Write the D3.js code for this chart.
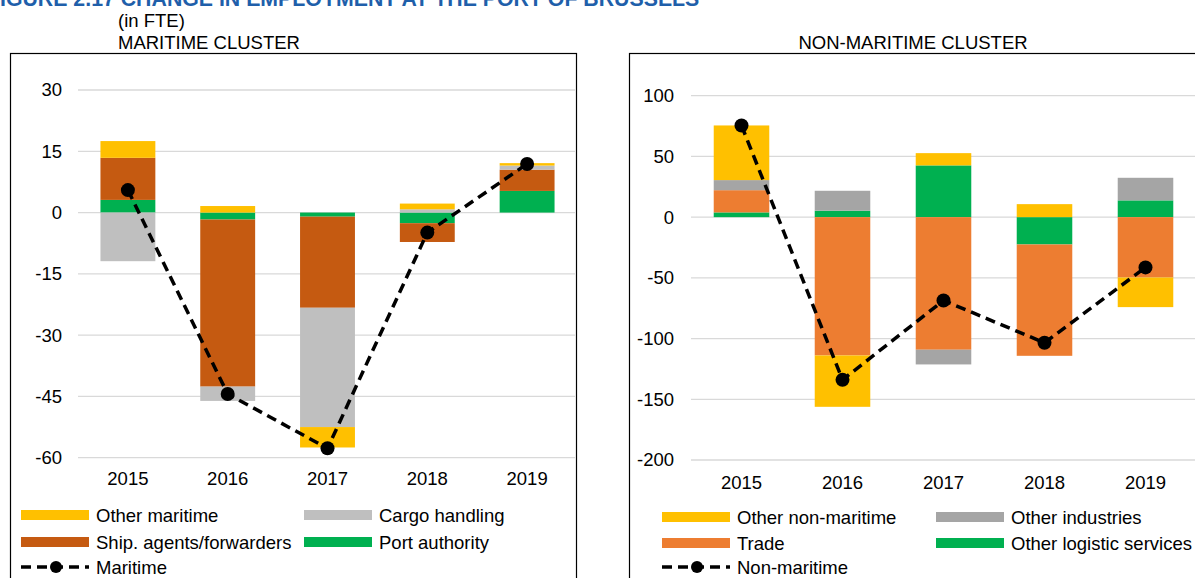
<!DOCTYPE html>
<html>
<head>
<meta charset="utf-8">
<script src="https://cdn.jsdelivr.net/npm/d3@7"></script>
<style>
  html, body { margin: 0; padding: 0; background: #fff; }
  svg { display: block; font-family: "Liberation Sans", Arial, sans-serif; }
</style>
</head>
<body>
<svg id="chart" width="1195" height="578"></svg>
<script>
// ---------- DATA ----------
const years = ["2015", "2016", "2017", "2018", "2019"];

// Maritime cluster (FTE change)
const portAuthority   = [3.1, -1.7, -1.0, -2.6, 5.3];
const shipAgents      = [10.3, -40.9, -22.3, -4.6, 5.2];
const cargoHandling   = [-11.9, -3.5, -29.2, 0.8, 1.0];
const otherMaritime   = [4.1, 1.6, -5.0, 1.4, 0.6];
const maritimeTotal   = [5.5, -44.4, -57.7, -4.9, 11.9];
const maritimeTicks   = [30, 15, 0, -15, -30, -45, -60];

// Non-maritime cluster (FTE change)
const otherLogistic     = [3.9, 5.3, 42.6, -22.5, 13.8];
const trade             = [18.3, -113.9, -109.2, -91.7, -49.7];
const otherIndustries   = [8.3, 16.4, -12.1, 0, 18.6];
const otherNonMaritime  = [45.0, -42.3, 10.1, 10.7, -24.4];
const nonMaritimeTotal  = [75.5, -134.0, -68.6, -103.5, -41.4];
const nonMaritimeTicks  = [100, 50, 0, -50, -100, -150, -200];

const titleText = "FIGURE 2.17 CHANGE IN EMPLOYMENT AT THE PORT OF BRUSSELS";

// ---------- DRAW ----------
const svg = d3.select("#chart");
const FONT = 18.5;

svg.append("text").attr("x", -13).attr("y", 5.5)
  .attr("font-size", 21.3).attr("font-weight", "bold").attr("fill", "#1F5FAA")
  .text(titleText);
svg.append("text").attr("x", 118).attr("y", 26.5).attr("font-size", FONT).attr("fill", "#000").text("(in FTE)");

function drawPanel(cfg) {
  const g = svg.append("g");
  // frame
  g.append("rect").attr("x", cfg.box[0] + 0.5).attr("y", 53.5)
    .attr("width", cfg.box[1] - cfg.box[0]).attr("height", 700)
    .attr("fill", "none").attr("stroke", "#000").attr("stroke-width", 1.2);
  // panel title
  g.append("text").attr("x", cfg.titleX).attr("y", 48.5).attr("font-size", FONT)
    .attr("text-anchor", cfg.titleAnchor).text(cfg.title);

  const x = d3.scaleBand().domain(years).range(cfg.xRange).paddingInner(0.45).paddingOuter(0.225);
  const y = d3.scaleLinear().domain(cfg.yDomain).range(cfg.yRange);

  // gridlines
  g.append("g").selectAll("line").data(cfg.ticks).join("line")
    .attr("x1", cfg.xRange[0]).attr("x2", cfg.gridEnd)
    .attr("y1", d => y(d)).attr("y2", d => y(d))
    .attr("stroke", "#D9D9D9").attr("stroke-width", 1.3);

  // y axis labels
  const yAxis = d3.axisLeft(y).tickValues(cfg.ticks).tickSize(0).tickPadding(0)
    .tickFormat(d => String(d));
  const ya = g.append("g").attr("transform", `translate(${cfg.yLabelX},0)`).call(yAxis);
  ya.select(".domain").remove();
  ya.selectAll("text").attr("font-size", FONT).attr("fill", "#000")
    .attr("font-family", "'Liberation Sans', Arial, sans-serif");

  // x axis labels
  const xAxis = d3.axisBottom(x).tickSize(0).tickPadding(0);
  const xa = g.append("g").attr("transform", `translate(0,${cfg.xLabelY})`).call(xAxis);
  xa.select(".domain").remove();
  xa.selectAll("text").attr("font-size", FONT).attr("fill", "#000").attr("dy", 0)
    .attr("font-family", "'Liberation Sans', Arial, sans-serif");

  // stacked bars
  const rows = years.map((yr, i) => {
    const o = { year: yr };
    cfg.series.forEach(s => o[s.name] = s.values[i]);
    return o;
  });
  const stack = d3.stack().keys(cfg.series.map(s => s.name)).offset(d3.stackOffsetDiverging);
  const layers = stack(rows);
  g.append("g").selectAll("g").data(layers).join("g")
    .attr("fill", (d, i) => cfg.series[i].color)
    .selectAll("rect").data(d => d).join("rect")
    .attr("x", d => x(d.data.year))
    .attr("width", x.bandwidth())
    .attr("y", d => y(Math.max(d[0], d[1])))
    .attr("height", d => Math.abs(y(d[0]) - y(d[1])));

  // total line
  const cx = d => x(d) + x.bandwidth() / 2;
  const line = d3.line().x((d, i) => cx(years[i])).y(d => y(d));
  g.append("path").datum(cfg.total).attr("d", line)
    .attr("fill", "none").attr("stroke", "#000").attr("stroke-width", 3.5)
    .attr("stroke-dasharray", "10,6");
  g.append("g").selectAll("circle").data(cfg.total).join("circle")
    .attr("cx", (d, i) => cx(years[i])).attr("cy", d => y(d)).attr("r", 7).attr("fill", "#000");

  // legend
  const lg = g.append("g");
  cfg.legend.forEach(it => {
    if (it.line) {
      lg.append("line").attr("x1", it.x).attr("x2", it.x + 68).attr("y1", it.y).attr("y2", it.y)
        .attr("stroke", "#000").attr("stroke-width", 3.5).attr("stroke-dasharray", "10,6");
      lg.append("circle").attr("cx", it.x + 35).attr("cy", it.y).attr("r", 6).attr("fill", "#000");
    } else {
      lg.append("rect").attr("x", it.x).attr("y", it.y - 5).attr("width", 68).attr("height", 10)
        .attr("fill", it.color);
    }
    lg.append("text").attr("x", it.x + 75).attr("y", it.y + 6.5).attr("font-size", FONT).text(it.label);
  });
}

const C = { yellow: "#FFC000", grey: "#BFBFBF", brown: "#C55A11", green: "#00B050",
            orange: "#ED7D31", dgrey: "#A5A5A5" };

drawPanel({
  box: [10, 576], title: "MARITIME CLUSTER", titleX: 118, titleAnchor: "start",
  xRange: [78, 577], gridEnd: 575, yDomain: [-60, 30], yRange: [457.7, 90],
  ticks: maritimeTicks, yLabelX: 62, xLabelY: 485,
  series: [
    { name: "Port authority", values: portAuthority, color: C.green },
    { name: "Ship. agents/forwarders", values: shipAgents, color: C.brown },
    { name: "Cargo handling", values: cargoHandling, color: C.grey },
    { name: "Other maritime", values: otherMaritime, color: C.yellow }
  ],
  total: maritimeTotal,
  legend: [
    { x: 21, y: 515, color: C.yellow, label: "Other maritime" },
    { x: 304, y: 515, color: C.grey, label: "Cargo handling" },
    { x: 21, y: 542, color: C.brown, label: "Ship. agents/forwarders" },
    { x: 304, y: 542, color: C.green, label: "Port authority" },
    { x: 21, y: 567, line: true, label: "Maritime" }
  ]
});

drawPanel({
  box: [629, 1300], title: "NON-MARITIME CLUSTER", titleX: 913, titleAnchor: "middle",
  xRange: [691, 1196], gridEnd: 1196, yDomain: [-200, 100], yRange: [460, 95.7],
  ticks: nonMaritimeTicks, yLabelX: 674, xLabelY: 489,
  series: [
    { name: "Other logistic services", values: otherLogistic, color: C.green },
    { name: "Trade", values: trade, color: C.orange },
    { name: "Other industries", values: otherIndustries, color: C.dgrey },
    { name: "Other non-maritime", values: otherNonMaritime, color: C.yellow }
  ],
  total: nonMaritimeTotal,
  legend: [
    { x: 662, y: 517, color: C.yellow, label: "Other non-maritime" },
    { x: 936, y: 517, color: C.dgrey, label: "Other industries" },
    { x: 662, y: 543, color: C.orange, label: "Trade" },
    { x: 936, y: 543, color: C.green, label: "Other logistic services" },
    { x: 662, y: 567, line: true, label: "Non-maritime" }
  ]
});
</script>
</body>
</html>
